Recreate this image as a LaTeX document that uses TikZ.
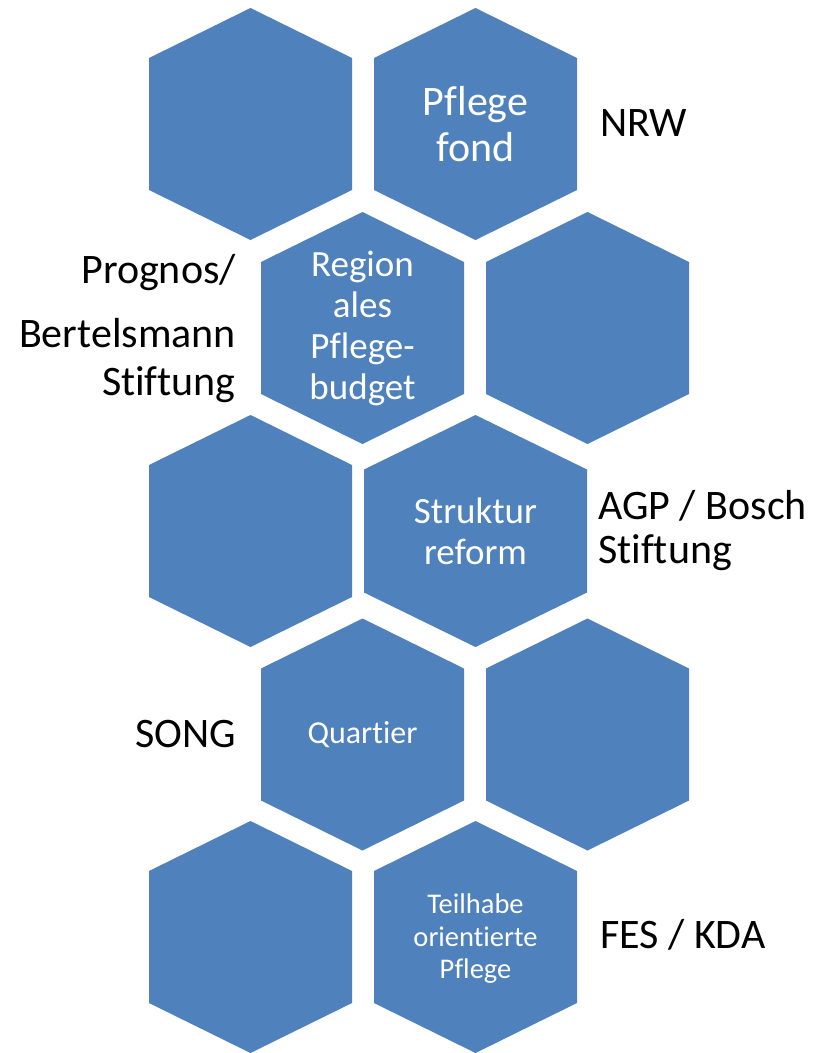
\documentclass[tikz,border=0pt]{standalone}
\usepackage{fontspec}
\setmainfont{Carlito}[Ligatures=CommonOff]
\usepackage{xcolor}
\usepackage{tikz}
\definecolor{hexblue}{HTML}{4F81BD}
\definecolor{ink}{HTML}{000000}
\tikzset{
  hexfill/.style={fill=hexblue, draw=none},
  hexbig/.style={text=white, align=center, inner sep=0pt, font=\fontsize{42}{46}\selectfont},
  hexmid/.style={text=white, align=center, inner sep=0pt, font=\fontsize{37}{41}\selectfont},
  hexsmall/.style={text=white, align=center, inner sep=0pt, font=\fontsize{32}{36}\selectfont},
  hextiny/.style={text=white, align=center, inner sep=0pt, font=\fontsize{28.5}{32.5}\selectfont},
  side/.style={text=ink, inner sep=0pt, font=\fontsize{42}{46}\selectfont}
}
% hexagon: centre x, centre y, half width, half height of the vertical side
\newcommand{\hexcell}[4]{%
  \fill[hexfill] (#1,#2-116) -- (#1+#3,#2-#4) -- (#1+#3,#2+#4)
    -- (#1,#2+116) -- (#1-#3,#2+#4) -- (#1-#3,#2-#4) -- cycle;}

\begin{document}
\begin{tikzpicture}[x=1pt, y=-1pt]
  \useasboundingbox (0,0) rectangle (814,1053);
  % honeycomb
  \foreach \cx/\cy in {250.5/124, 475.5/124, 362.5/328, 587.5/328,
                       250.5/531, 362.5/734.5, 587.5/734.5,
                       250.5/937, 475.5/937}
    \hexcell{\cx}{\cy}{101.5}{66};
  \hexcell{475.5}{531}{111.5}{61.5}

  % texts in the cells
  \node[hexbig] (fond) at (475.5,124) {Pflege\\fond};
  \node[hexmid] (budget) at (362.5,328) {Region\\ales\\Pflege-\\budget};
  \node[hexmid] (reform) at (475.5,531) {Struktur\\reform};
  \node[hexsmall] (quartier) at (362.5,735) {Quartier};
  \node[hextiny] (teilhabe) at (475.5,939) {Teilhabe\\orientierte\\Pflege};

  % partners
  \node[side, anchor=base west] (nrw) at (600,136) {NRW};
  \node[side, anchor=base east] (prognos) at (236,283) {Prognos/};
  \node[side, anchor=base east] (bertels) at (236,347) {Bertelsmann};
  \node[side, anchor=base east] (stiftA) at (236,395) {Stiftung};
  \node[side, anchor=base west] (agp) at (598,519) {AGP / Bosch};
  \node[side, anchor=base west] (stiftB) at (598,563) {Stiftung};
  \node[side, anchor=base east] (song) at (236,747) {SONG};
  \node[side, anchor=base west] (fes) at (600,948) {FES / KDA};
\end{tikzpicture}
\end{document}
